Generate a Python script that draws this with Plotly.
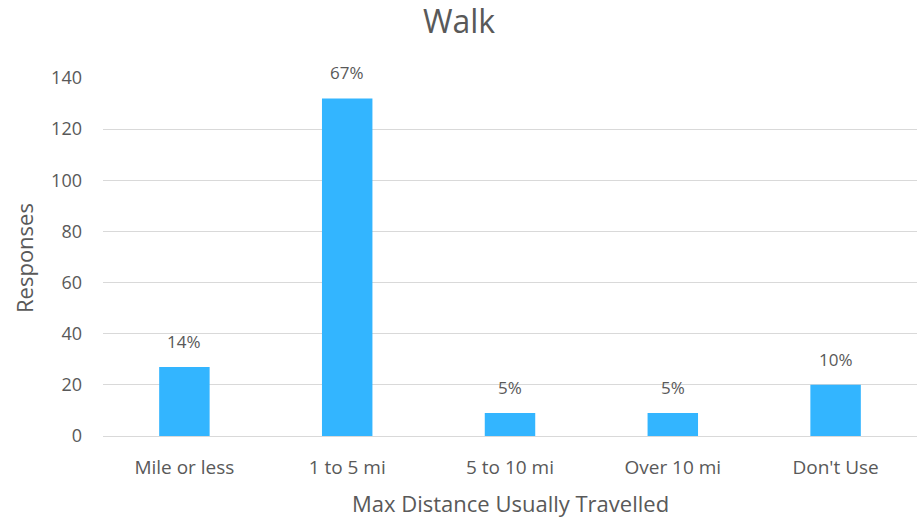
import plotly.graph_objects as go

categories = ["Mile or less", "1 to 5 mi", "5 to 10 mi", "Over 10 mi", "Don't Use"]
responses = [27, 132, 9, 9, 20]
pct_labels = ["14%", "67%", "5%", "5%", "10%"]
y_ticks = [0, 20, 40, 60, 80, 100, 120, 140]

FONT = "Open Sans, Lato, sans-serif"
TXT = "#595959"

fig = go.Figure()
fig.add_trace(go.Bar(
    x=categories, y=responses,
    marker=dict(color="#33B5FF", line=dict(width=0)),
    width=0.31,
    hoverinfo="x+y",
))

for c, v, t in zip(categories, responses, pct_labels):
    fig.add_annotation(x=c, y=v, text=t, showarrow=False, yanchor="bottom",
                       yshift=12, font=dict(family=FONT, size=17, color=TXT))

# axis titles placed as paper annotations
fig.add_annotation(xref="paper", yref="paper", x=(510 - 103) / 814, y=-(503 - 436) / 358,
                   text="Max Distance Usually Travelled", showarrow=False,
                   xanchor="center", yanchor="middle",
                   font=dict(family=FONT, size=22, color=TXT))
fig.add_annotation(xref="paper", yref="paper", x=-(103 - 24) / 814, y=(436 - 258) / 358,
                   text="Responses", showarrow=False, textangle=-90,
                   xanchor="center", yanchor="middle",
                   font=dict(family=FONT, size=22, color=TXT))

fig.update_layout(
    width=917, height=519,
    margin=dict(l=103, r=0, t=78, b=83, autoexpand=False),
    paper_bgcolor="white", plot_bgcolor="white",
    showlegend=False,
    title=dict(text="Walk", x=(459) / 917, xanchor="center", y=1 - 22 / 519, yanchor="middle",
               font=dict(family=FONT, size=32, color=TXT)),
    font=dict(family=FONT, color=TXT),
    xaxis=dict(
        automargin=False,
        tickfont=dict(family=FONT, size=19, color=TXT),
        showgrid=False, showline=False, ticks="", ticklen=0,
        ticklabelstandoff=18,
    ),
    yaxis=dict(
        automargin=False,
        range=[0, 140], tickvals=y_ticks,
        tickfont=dict(family=FONT, size=18, color=TXT),
        showgrid=True, gridcolor="#D9D9D9", gridwidth=1.3,
        zeroline=True, zerolinecolor="#D9D9D9", zerolinewidth=1.3,
        showline=False, ticks="", ticklen=0,
        ticklabelstandoff=20,
    ),
)

fig.write_html("out.html", config={"displayModeBar": False},
               post_script="document.body.style.margin='0';document.body.style.overflow='hidden';")
